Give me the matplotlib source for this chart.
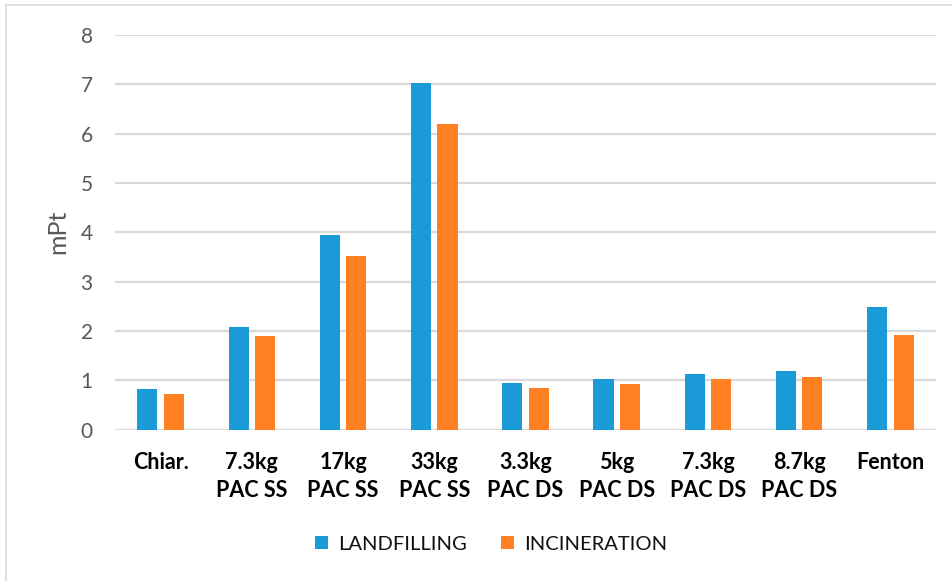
import matplotlib
matplotlib.use("Agg")
import matplotlib.pyplot as plt
import numpy as np
from matplotlib.lines import Line2D

categories = ["Chiar.", "7.3kg\nPAC SS", "17kg\nPAC SS", "33kg\nPAC SS", "3.3kg\nPAC DS",
              "5kg\nPAC DS", "7.3kg\nPAC DS", "8.7kg\nPAC DS", "Fenton"]
landfilling = [0.82, 2.07, 3.95, 7.02, 0.95, 1.02, 1.13, 1.18, 2.49]
incineration = [0.71, 1.89, 3.51, 6.20, 0.84, 0.92, 1.02, 1.07, 1.92]
yticks = [0, 1, 2, 3, 4, 5, 6, 7, 8]

plt.rcParams['font.family'] = ['Lato', 'DejaVu Sans']

fig = plt.figure(figsize=(9.52, 5.81), dpi=100)
ax = fig.add_axes([115/952, 1-429.5/581, 821/952, 394.5/581])

x = np.arange(len(categories))
w = 0.22
off = 0.145
blue = "#1A9AD6"
orange = "#FF7F22"
ax.bar(x - off, landfilling, w, color=blue, label="LANDFILLING", zorder=3)
ax.bar(x + off, incineration, w, color=orange, label="INCINERATION", zorder=3)

ax.set_xlim(-0.5, len(categories) - 0.5)
ax.set_ylim(0, 8)
ax.set_yticks(yticks)
ax.set_yticklabels([str(v) for v in yticks], fontsize=15, color="#595959")
ax.set_xticks(x)
ax.set_xticklabels(categories, fontsize=15.5, fontweight="bold", color="black", linespacing=1.4)
ax.tick_params(axis="y", length=0, pad=16)
ax.tick_params(axis="x", length=0, pad=16)
ax.grid(axis="y", color="#D9D9D9", linewidth=1.6, zorder=0)
for s in ax.spines.values():
    s.set_visible(False)
ax.set_ylabel("mPt", fontsize=18, color="#595959", labelpad=8)

leg = fig.legend(loc="center", bbox_to_anchor=(491/952, 1-544/581), ncol=2, frameon=False,
                 fontsize=14.5, handlelength=0.65, handleheight=0.65, handletextpad=0.5,
                 columnspacing=1.7)
for t in leg.get_texts():
    t.set_color("#111111")

# light border on top and left of the figure
fig.add_artist(Line2D([6/952, 6/952], [0, 1-5/581], transform=fig.transFigure, color="#D9D9D9", linewidth=1.2))
fig.add_artist(Line2D([6/952, 1], [1-5/581, 1-5/581], transform=fig.transFigure, color="#D9D9D9", linewidth=1.2))

fig.savefig("out.png", dpi=100)
